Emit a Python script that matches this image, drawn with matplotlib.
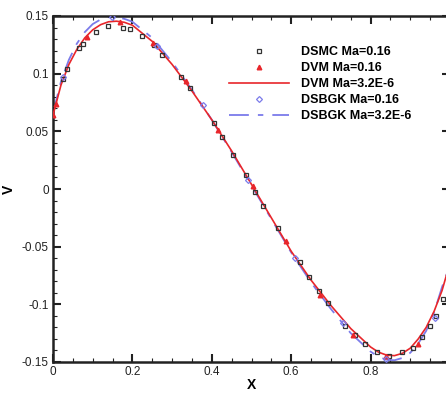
import numpy as np
import matplotlib
matplotlib.use("Agg")
import matplotlib.pyplot as plt
from matplotlib.ticker import MultipleLocator

plt.rcParams['font.family'] = ['Liberation Sans', 'DejaVu Sans']

# DSMC Ma=0.16 (open squares)
dsmc_x = [0.024, 0.035, 0.065, 0.076, 0.108, 0.138, 0.177, 0.194, 0.223, 0.254,
          0.275, 0.322, 0.345, 0.406, 0.425, 0.453, 0.485, 0.508, 0.530, 0.568,
          0.623, 0.645, 0.669, 0.693, 0.736, 0.760, 0.785, 0.817, 0.846, 0.880,
          0.907, 0.929, 0.949, 0.964, 0.982]
dsmc_v = [0.095, 0.104, 0.1225, 0.126, 0.136, 0.141, 0.140, 0.139, 0.133, 0.125,
          0.116, 0.097, 0.088, 0.057, 0.045, 0.0295, 0.012, -0.003, -0.0145, -0.0336,
          -0.0636, -0.0766, -0.0882, -0.099, -0.1185, -0.1266, -0.1344, -0.141, -0.1448, -0.1416,
          -0.1376, -0.1286, -0.1185, -0.110, -0.095]

# DVM Ma=0.16 (triangles)
dvm_x = [0.0, 0.007, 0.085, 0.169, 0.253, 0.335, 0.416, 0.503, 0.587, 0.672,
         0.756, 0.840, 0.920, 1.0]
dvm_v = [0.064, 0.074, 0.132, 0.145, 0.127, 0.094, 0.051, 0.0026, -0.045, -0.092,
         -0.1266, -0.145, -0.134, -0.064]

# DVM Ma=3.2E-6 (solid line)
line_x = [0.0, 0.02, 0.04, 0.06, 0.08, 0.10, 0.12, 0.14, 0.16, 0.18, 0.20, 0.25,
          0.30, 0.35, 0.40, 0.45, 0.50, 0.55, 0.60, 0.65, 0.70, 0.75, 0.80, 0.82,
          0.84, 0.86, 0.88, 0.90, 0.92, 0.94, 0.96, 0.98, 1.0]
dvm_line_v = [0.064, 0.090, 0.108, 0.121, 0.131, 0.138, 0.1425, 0.145, 0.1455, 0.1445,
              0.142, 0.128, 0.108, 0.085, 0.060, 0.033, 0.004, -0.025, -0.054, -0.079,
              -0.101, -0.121, -0.137, -0.1415, -0.144, -0.1445, -0.1425, -0.138, -0.130,
              -0.120, -0.106, -0.088, -0.064]

# DSBGK Ma=0.16 (diamonds)
bgk_x = [0.024, 0.148, 0.262, 0.377, 0.491, 0.610, 0.730, 0.840, 0.962]
bgk_v = [0.097, 0.1495, 0.124, 0.0728, 0.0078, -0.0596, -0.116, -0.147, -0.112]

# DSBGK Ma=3.2E-6 (dash-dot line)
bgk_line_v = [0.066, 0.093, 0.112, 0.126, 0.136, 0.143, 0.147, 0.149, 0.149, 0.1475,
              0.145, 0.131, 0.110, 0.086, 0.060, 0.032, 0.003, -0.026, -0.055, -0.081,
              -0.104, -0.125, -0.141, -0.1455, -0.148, -0.1485, -0.1465, -0.142, -0.134,
              -0.123, -0.107, -0.085, -0.066]

red = '#e8262b'
blue = '#7b7bea'

fig = plt.figure(figsize=(4.46, 3.96), dpi=100)
ax = fig.add_axes([53 / 446, 34 / 396, 397 / 446, 346 / 396])

ax.plot(line_x, bgk_line_v, color=blue, lw=1.3, dashes=(11, 5, 3, 5),
        label='DSBGK Ma=3.2E-6', zorder=2)
ax.plot(line_x, dvm_line_v, color=red, lw=1.2, label='DVM Ma=3.2E-6', zorder=3)
ax.plot(dsmc_x, dsmc_v, ls='none', marker='s', ms=3.3, mfc='none', mec='#333333',
        mew=0.9, label='DSMC Ma=0.16', zorder=4)
ax.plot(dvm_x, dvm_v, ls='none', marker='^', ms=3.3, mfc=red, mec=red,
        label='DVM Ma=0.16', zorder=4)
ax.plot(bgk_x, bgk_v, ls='none', marker='D', ms=3.0, mfc='none', mec=blue,
        mew=0.9, label='DSBGK Ma=0.16', zorder=4)

ax.set_xlim(0, 1)
ax.set_ylim(-0.15, 0.15)
ax.xaxis.set_major_locator(MultipleLocator(0.2))
ax.xaxis.set_minor_locator(MultipleLocator(0.05))
ax.yaxis.set_major_locator(MultipleLocator(0.05))
ax.yaxis.set_minor_locator(MultipleLocator(0.01))
ax.set_xticks([0, 0.2, 0.4, 0.6, 0.8])
ax.set_xticklabels(['0', '0.2', '0.4', '0.6', '0.8'])
ax.set_yticks([-0.15, -0.1, -0.05, 0, 0.05, 0.1, 0.15])
ax.set_yticklabels(['-0.15', '-0.1', '-0.05', '0', '0.05', '0.1', '0.15'])
ax.tick_params(which='both', direction='in', top=True, right=True,
               labelsize=8.5, colors='#222222', pad=3)
ax.tick_params(which='major', length=6, width=1.5)
ax.tick_params(which='minor', length=3, width=0.8)
for s in ax.spines.values():
    s.set_linewidth(1.8)
    s.set_color('#222222')

ax.set_xlabel('X', fontsize=10, fontweight='bold', labelpad=0)
ax.set_ylabel('V', fontsize=10, fontweight='bold', labelpad=4)

handles, labels = ax.get_legend_handles_labels()
order = ['DSMC Ma=0.16', 'DVM Ma=0.16', 'DVM Ma=3.2E-6', 'DSBGK Ma=0.16', 'DSBGK Ma=3.2E-6']
hmap = dict(zip(labels, handles))
ax.legend([hmap[k] for k in order], order, loc='upper left',
          bbox_to_anchor=(0.43, 0.928), frameon=False, handlelength=4.8,
          handletextpad=1.0, labelspacing=0.33, borderaxespad=0,
          prop={'size': 9, 'weight': 'bold'})

fig.savefig('out.png', dpi=100)
